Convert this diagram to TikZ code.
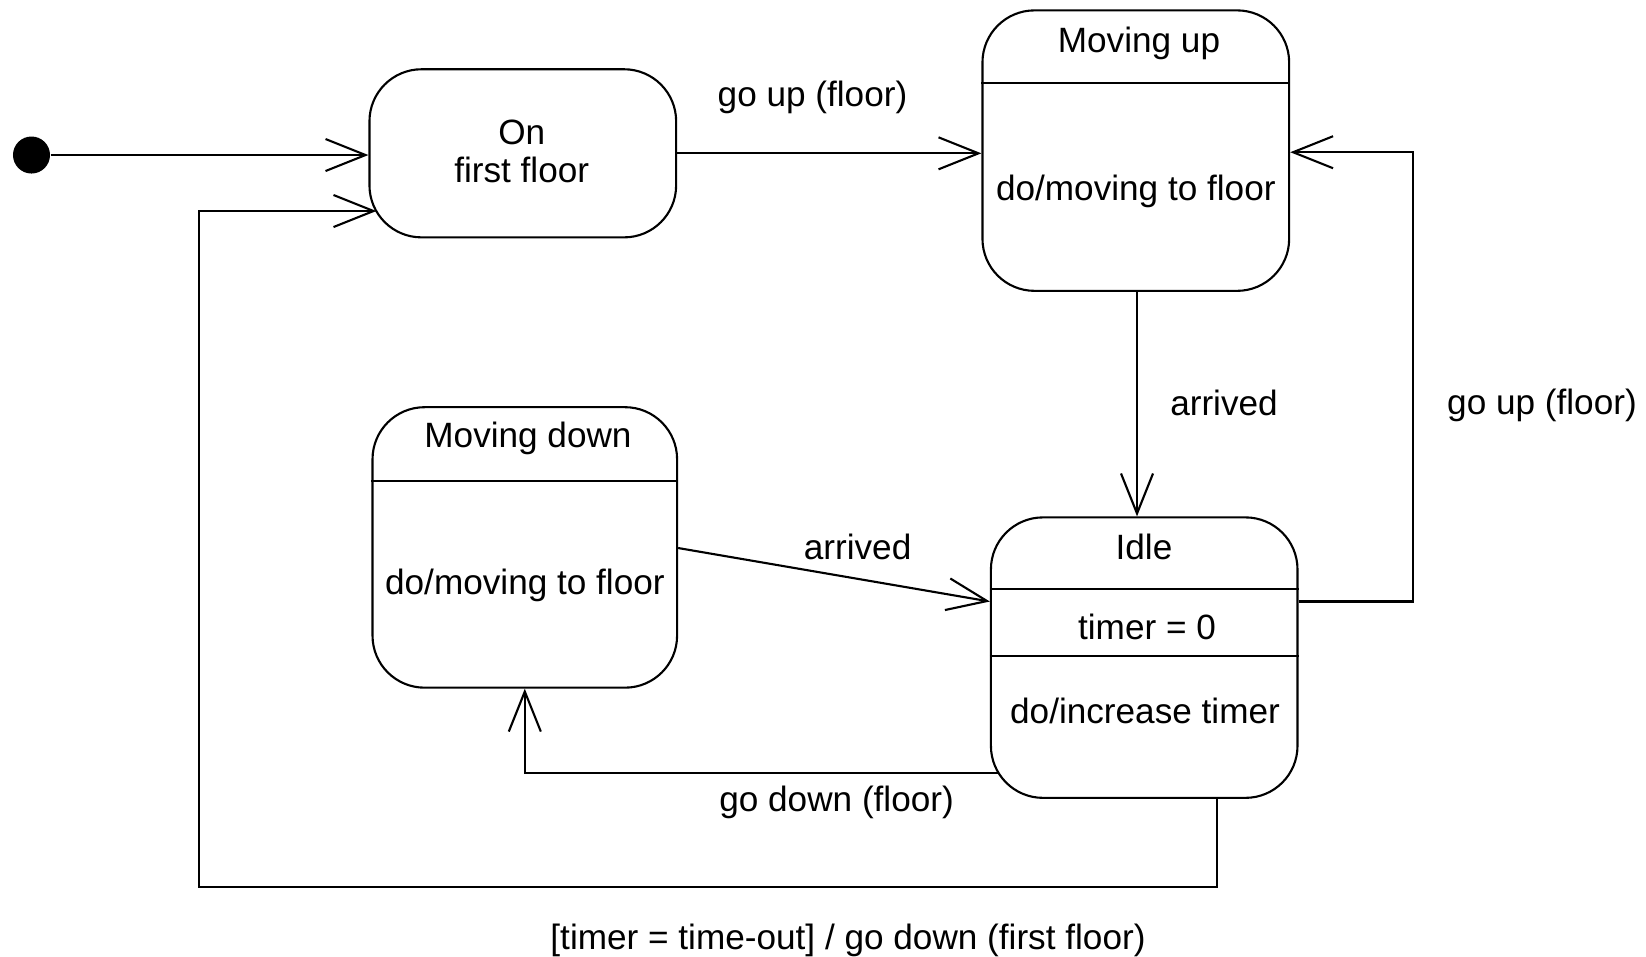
\documentclass[tikz,border=0pt]{standalone}
\usepackage{fontspec}
\setmainfont{Liberation Sans}
\usetikzlibrary{arrows.meta}

\tikzset{
  state/.style={draw, line width=0.6pt, rounded corners=0.52cm, inner sep=0pt},
  txt/.style={inner sep=0pt, font=\fontsize{10}{12}\selectfont},
  trans/.style={draw, line width=0.6pt, -{Straight Barb[length=4mm,width=3.2mm,line width=0.6pt]}},
  divider/.style={draw, line width=0.6pt},
}

\begin{document}
\begin{tikzpicture}[x=0.01cm, y=-0.01cm]
  \useasboundingbox (0,0) rectangle (1646,956);

  % initial pseudo-state
  \node[circle, fill, inner sep=0pt, minimum size=0.37cm] (init) at (31.5,155) {};

  % state: On / first floor
  \node[state, minimum width=3.065cm, minimum height=1.68cm] (On) at (522.8,153.3) {};
  \node[txt] (onT1) at (521.7,132.3) {On};
  \node[txt] (onT2) at (521.7,170) {first floor};

  % state: Moving up
  \node[state, minimum width=3.065cm, minimum height=2.803cm] (MU) at (1135.8,150.6) {};
  \coordinate (muDiv) at (0,82.9);
  \draw[divider] (MU.west |- muDiv) -- (MU.east |- muDiv);
  \node[txt] (muT1) at (1139,43) {Moving up};
  \node[txt] (muT2) at (1135.8,191) {do/moving to floor};

  % state: Moving down
  \node[state, minimum width=3.044cm, minimum height=2.803cm] (MD) at (524.8,547.4) {};
  \coordinate (mdDiv) at (0,480.8);
  \draw[divider] (MD.west |- mdDiv) -- (MD.east |- mdDiv);
  \node[txt] (mdT1) at (528,438.6) {Moving down};
  \node[txt] (mdT2) at (524.9,585.5) {do/moving to floor};

  % state: Idle
  \node[state, minimum width=3.064cm, minimum height=2.803cm] (Idle) at (1144.2,657.6) {};
  \coordinate (idDiv1) at (0,588.9);
  \coordinate (idDiv2) at (0,656);
  \draw[divider] (Idle.west |- idDiv1) -- (Idle.east |- idDiv1);
  \draw[divider] (Idle.west |- idDiv2) -- (Idle.east |- idDiv2);
  \node[txt] (idT1) at (1144,546.5) {Idle};
  \node[txt] (idT2) at (1147,627) {timer = 0};
  \node[txt] (idT3) at (1145,711) {do/increase timer};

  % transitions
  \draw[trans] (init.east) -- (init -| On.west);

  \draw[trans] (On.east) -- (On.east -| MU.west);
  \node[txt] (lGoUp1) at (812.5,97.5) {go up (floor)};

  \coordinate (muOut) at (1137,0);
  \draw[trans] (muOut |- MU.south) -- (muOut |- Idle.north);
  \node[txt] (lArr1) at (1224,403) {arrived};

  \coordinate (rA) at (1413,601.5);
  \coordinate (rB) at (1413,152.2);
  \draw[trans] (rA -| Idle.east) -- (rA) -- (rB) -- (rB -| MU.east);
  \node[txt] (lGoUp2) at (1542,405) {go up (floor)};

  \coordinate (mdOut) at (0,548);
  \draw[trans] (MD.east |- mdOut) -- (Idle.west |- rA);
  \node[txt] (lArr2) at (857.6,546.5) {arrived};

  \coordinate (dA) at (998.4,772.6);
  \draw[trans] (dA) -| (MD.south);
  \node[txt] (lGoDown) at (836.6,802.8) {go down (floor)};

  \coordinate (bA) at (1216.6,887);
  \coordinate (bB) at (199.4,887);
  \coordinate (bC) at (199.4,211);
  \coordinate (bD) at (376.4,211);
  \draw[trans] (bA |- Idle.south) -- (bA) -- (bB) -- (bC) -- (bD);
  \node[txt] (lTimeout) at (848,940) {[timer = time-out] / go down (first floor)};
\end{tikzpicture}
\end{document}
